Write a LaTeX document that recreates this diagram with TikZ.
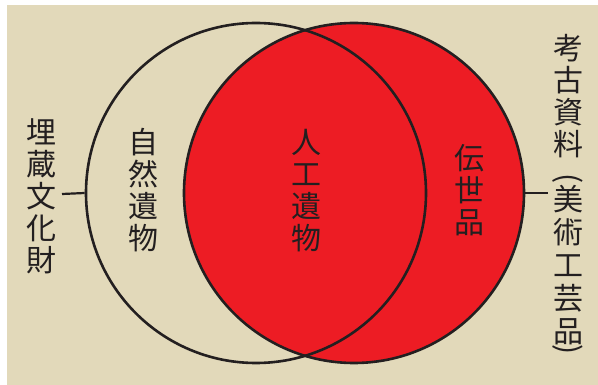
\documentclass[tikz,border=0pt]{standalone}
\usepackage{fontspec}
\newfontfamily\jp{Noto Sans CJK JP}
\definecolor{bg}{RGB}{226,217,186}
\definecolor{vred}{RGB}{237,28,36}
\definecolor{ink}{RGB}{35,31,32}
\tikzset{
  ring/.style={circle, minimum size=340pt, inner sep=0pt, draw=ink, line width=2.6pt},
  vlabel/.style={inner sep=0pt, align=center, text=ink, font=\jp\fontsize{30}{32}\selectfont},
  vparen/.style={inner sep=0pt, text=ink, font=\jp\fontsize{30}{32}\selectfont, rotate=-90},
  tick/.style={draw=ink, line width=2.2pt}
}
\begin{document}
\begin{tikzpicture}[x=1pt,y=-1pt]
\useasboundingbox (0,0) rectangle (598,385);
\fill[white] (0,0) rectangle (598,385);
\fill[bg] (7,5) rectangle (598,385);
\node[ring, fill=vred] (R) at (354,193) {};
\node[ring] (L) at (256,193) {};
\node[vlabel] (maizo) at (42,196.5) {埋\\蔵\\文\\化\\財};
\node[vlabel] (shizen) at (143,190.5) {自\\然\\遺\\物};
\node[vlabel] (jinko) at (306,191) {人\\工\\遺\\物};
\node[vlabel] (densei) at (469,190) {伝\\世\\品};
\node[vlabel] (koko) at (568,96.5) {考\\古\\資\\料};
\node[vparen] (lp) at (568,179) {(};
\node[vlabel, font=\jp\fontsize{30}{33}\selectfont] (bijutsu) at (568,265) {美\\術\\工\\芸\\品};
\node[vparen] (rp) at (568,350) {)};
\coordinate (lt) at (62,194);
\coordinate (rt) at (548,193);
\draw[tick] (L.west) -- (lt);
\draw[tick] (R.east) -- (rt);
\end{tikzpicture}
\end{document}
